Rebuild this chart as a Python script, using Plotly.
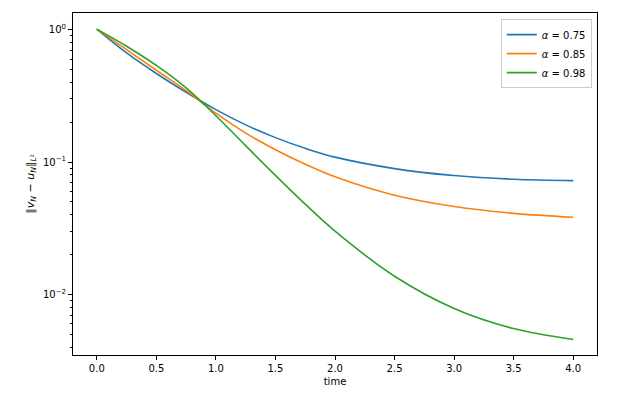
import plotly.graph_objects as go

# values
time = [0.0, 0.25, 0.5, 0.75, 1.0, 1.25, 1.5, 1.75, 2.0, 2.5, 3.0, 3.5, 4.0]
err_075 = [1.01, 0.667, 0.467, 0.337, 0.249, 0.191, 0.153, 0.127, 0.109,
           0.0893, 0.0791, 0.0741, 0.0724]
err_085 = [1.01, 0.706, 0.494, 0.346, 0.234, 0.1656, 0.124, 0.0964, 0.0774,
           0.0562, 0.0462, 0.0410, 0.0383]
err_098 = [1.01, 0.750, 0.537, 0.363, 0.224, 0.133, 0.0794, 0.0481, 0.0301,
           0.01374, 0.00785, 0.00553, 0.00457]

series = [
    ("<i>α</i> = 0.75", err_075, "#1f77b4"),
    ("<i>α</i> = 0.85", err_085, "#ff7f0e"),
    ("<i>α</i> = 0.98", err_098, "#2ca02c"),
]

y_tick_vals = [1, 0.1, 0.01]
y_tick_text = ["10<sup>0</sup>", "10<sup>−1</sup>", "10<sup>−2</sup>"]
y_minor_vals = [m * 10 ** e for e in (-3, -2, -1) for m in range(2, 10) if m * 10 ** e >= 0.0035]

fig = go.Figure()
for name, values, color in series:
    fig.add_trace(
        go.Scatter(
            x=time,
            y=values,
            name=name,
            mode="lines",
            line=dict(color=color, width=1.6, shape="spline", smoothing=1.0),
        )
    )

axis_style = dict(
    showline=True,
    linecolor="black",
    linewidth=1,
    mirror=True,
    ticks="outside",
    ticklen=4,
    tickcolor="black",
    showgrid=False,
    zeroline=False,
    automargin=False,
    tickfont=dict(size=10, color="black"),
)

fig.update_xaxes(
    range=[-0.2, 4.2],
    dtick=0.5,
    tick0=0,
    tickformat=".1f",
    title=dict(text="time", font=dict(size=10, color="black"), standoff=4),
    **axis_style,
)
fig.update_yaxes(
    type="log",
    range=[-2.457, 0.126],
    tickmode="array",
    tickvals=y_tick_vals,
    ticktext=y_tick_text,
    minor=dict(tickmode="array", tickvals=y_minor_vals, ticks="outside", ticklen=2,
               tickcolor="black"),
    title=dict(
        text="‖<i>v</i><sub><i>N</i></sub> − <i>u</i><sub><i>N</i></sub>‖<sub><i>L</i>²</sub>",
        font=dict(size=11, color="black"),
        standoff=6,
    ),
    **axis_style,
)

# the page body adds 8px around the figure, so the figure is 8px smaller
fig.update_layout(
    width=614,
    height=393,
    margin=dict(l=65, r=25, t=5, b=46),
    paper_bgcolor="white",
    plot_bgcolor="white",
    font=dict(family="DejaVu Sans", size=10, color="black"),
    showlegend=True,
    legend=dict(
        x=0.99,
        y=0.982,
        xanchor="right",
        yanchor="top",
        bgcolor="rgba(255,255,255,0.8)",
        bordercolor="#cccccc",
        borderwidth=1,
        font=dict(size=10),
        itemwidth=30,
        tracegroupgap=0,
    ),
)

fig.write_html("out.html")
